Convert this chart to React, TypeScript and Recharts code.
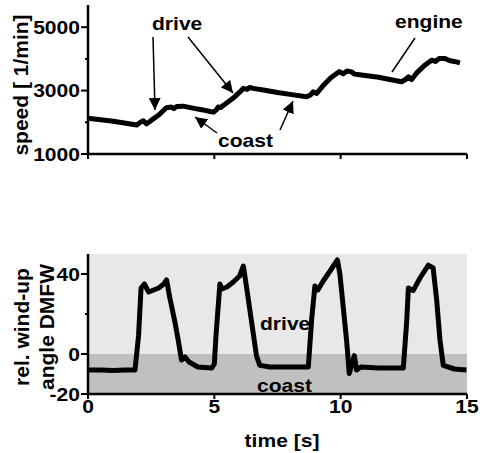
import { LineChart, Line, XAxis, YAxis, ReferenceArea } from 'recharts'

// speed trace (upper panel)
const speedTime = [0, 0.5, 1.0, 1.5, 1.93, 2.05, 2.19, 2.32, 2.5, 2.8, 3.1, 3.3, 3.4, 3.51, 3.76, 4.2, 4.55, 4.83, 4.97, 5.09, 5.15, 5.25, 5.5, 5.8, 6.0, 6.15, 6.3, 6.4, 6.54, 7.0, 7.5, 8.0, 8.65, 8.8, 8.91, 9.05, 9.3, 9.6, 9.84, 9.95, 10.1, 10.25, 10.43, 10.55, 10.83, 11.5, 12.0, 12.41, 12.55, 12.68, 12.81, 13.0, 13.3, 13.6, 13.75, 13.9, 14.13, 14.3, 14.5, 14.72]
const speedValues = [2130, 2080, 2030, 1970, 1915, 1990, 2050, 1950, 2060, 2230, 2460, 2480, 2430, 2500, 2510, 2440, 2390, 2340, 2320, 2400, 2480, 2470, 2620, 2800, 2950, 3070, 3040, 3100, 3070, 3010, 2940, 2880, 2805, 2860, 2960, 2910, 3150, 3400, 3540, 3600, 3530, 3620, 3590, 3520, 3490, 3420, 3340, 3280, 3340, 3435, 3350, 3550, 3780, 3960, 3920, 4010, 4010, 3950, 3920, 3875]

// wind-up angle trace (lower panel)
const angleTime = [0, 0.5, 1.0, 1.5, 1.86, 2.0, 2.1, 2.23, 2.4, 2.6, 2.8, 3.0, 3.11, 3.24, 3.44, 3.57, 3.7, 3.84, 4.0, 4.35, 4.9, 5.0, 5.07, 5.22, 5.3, 5.5, 5.75, 6.0, 6.15, 6.28, 6.48, 6.67, 6.8, 7.2, 8.0, 8.72, 8.85, 8.98, 9.1, 9.31, 9.58, 9.87, 9.97, 10.1, 10.24, 10.34, 10.45, 10.54, 10.63, 10.8, 11.5, 12.48, 12.61, 12.68, 12.87, 13.14, 13.47, 13.66, 13.8, 13.93, 14.06, 14.5, 14.98]
const angleValues = [-8, -8, -8.2, -8, -8, 9, 33, 35, 31, 32, 33, 35, 37, 28, 16, 7, -3, -1.5, -4, -6.5, -7, -5, 10, 35, 32.5, 33.5, 36, 39, 44, 33, 15.6, -1, -5.7, -6.5, -6.5, -6.5, 17, 34, 32, 36.5, 41.5, 47, 40, 23.6, 6, -9.8, -5, -0.8, -8, -6.5, -7, -7, 15.6, 33, 31.7, 38, 44.4, 43, 27, 7, -5.7, -7.5, -8]

const timeTicks = [0, 5, 10, 15]
const speedTicks = [1000, 2000, 3000, 4000, 5000]
const speedLabelled = [1000, 3000, 5000]
const angleTicks = [-20, 0, 20, 40]
const angleLabelled = [-20, 0, 40]

const speedData = speedTime.map((t, i) => ({ t, v: speedValues[i] }))
const angleData = angleTime.map((t, i) => ({ t, a: angleValues[i] }))

const FONT = '"Liberation Sans", Arial, sans-serif'
const SX = 1.17

function WideText({ x, y, anchor = 'start', children }: any) {
  return (
    <text transform={`translate(${x},${y}) scale(${SX},1)`} textAnchor={anchor} fontSize={18} fontWeight="bold" fontFamily={FONT} fill="#000">
      {children}
    </text>
  )
}

function makeYTick(labelled: number[]) {
  return (props: any) => {
    const { x, y, payload } = props
    const major = labelled.includes(payload.value)
    return (
      <g>
        <line x1={x - (major ? 7 : 3)} y1={y} x2={x} y2={y} stroke="#000" strokeWidth={2} />
        {major && <WideText x={x - 8} y={y + 6.5} anchor="end">{payload.value}</WideText>}
      </g>
    )
  }
}

function makeXTick(showLabel: boolean) {
  return (props: any) => {
    const { x, y, payload } = props
    return (
      <g>
        <line x1={x} y1={y} x2={x} y2={y + 5} stroke="#000" strokeWidth={2} />
        {showLabel && <WideText x={x} y={y + 19} anchor="middle">{payload.value}</WideText>}
      </g>
    )
  }
}

const axisLine = { stroke: '#000', strokeWidth: 2.5 }

export default function App() {
  return (
    <div style={{ position: 'absolute', left: 0, top: 0, width: 480, height: 453, background: '#fff' }}>
      <div style={{ position: 'absolute', left: 0, top: 0 }}>
        <LineChart width={480} height={180} data={speedData} margin={{ top: 5, right: 13, left: 0, bottom: 0 }}>
          <XAxis dataKey="t" type="number" domain={[0, 15]} ticks={timeTicks} height={26} axisLine={axisLine} tickLine={false} tickSize={0} tickMargin={0} tick={makeXTick(false)} />
          <YAxis type="number" domain={[1000, 5700]} ticks={speedTicks} width={88} allowDataOverflow axisLine={axisLine} tickLine={false} tickSize={0} tickMargin={0} tick={makeYTick(speedLabelled)} />
          <Line type="linear" dataKey="v" stroke="#000" strokeWidth={5} strokeLinejoin="round" dot={false} isAnimationActive={false} />
        </LineChart>
      </div>
      <div style={{ position: 'absolute', left: 0, top: 230 }}>
        <LineChart width={480} height={223} data={angleData} margin={{ top: 24, right: 13, left: 0, bottom: 0 }}>
          <ReferenceArea y1={0} y2={50} fill="#e8e8e8" fillOpacity={1} stroke="none" />
          <ReferenceArea y1={-20} y2={0} fill="#c0c0c0" fillOpacity={1} stroke="none" />
          <XAxis dataKey="t" type="number" domain={[0, 15]} ticks={timeTicks} height={59} axisLine={axisLine} tickLine={false} tickSize={0} tickMargin={0} tick={makeXTick(true)} />
          <YAxis type="number" domain={[-20, 50]} ticks={angleTicks} width={88} allowDataOverflow axisLine={axisLine} tickLine={false} tickSize={0} tickMargin={0} tick={makeYTick(angleLabelled)} />
          <Line type="linear" dataKey="a" stroke="#000" strokeWidth={5} strokeLinejoin="round" dot={false} isAnimationActive={false} />
        </LineChart>
      </div>
      <svg width={480} height={453} style={{ position: 'absolute', left: 0, top: 0, pointerEvents: 'none' }}>
        <defs>
          <marker id="head" viewBox="0 0 12 12" refX={12} refY={6} markerWidth={12} markerHeight={12} markerUnits="userSpaceOnUse" orient="auto">
            <path d="M0,0 L12,6 L0,12 z" fill="#000" />
          </marker>
        </defs>
        {/* axis titles */}
        <text transform="translate(28,85) rotate(-90)" textAnchor="middle" fontSize={21} fontWeight="bold" fontFamily={FONT}>speed [ 1/min]</text>
        <text transform="translate(29,327) rotate(-90)" textAnchor="middle" fontSize={21} fontWeight="bold" fontFamily={FONT}>rel. wind-up</text>
        <text transform="translate(54,327) rotate(-90)" textAnchor="middle" fontSize={21} fontWeight="bold" fontFamily={FONT}>angle DMFW</text>
        <WideText x={282} y={447} anchor="middle">time [s]</WideText>
        {/* annotations, upper panel */}
        <WideText x={152} y={30}>drive</WideText>
        <WideText x={395} y={28}>engine</WideText>
        <WideText x={218} y={147}>coast</WideText>
        <g stroke="#000" strokeWidth={1.5}>
          <line x1={153} y1={37} x2={155} y2={110} markerEnd="url(#head)" />
          <line x1={188} y1={37} x2={233} y2={93} markerEnd="url(#head)" />
          <line x1={217} y1={133} x2={195} y2={117} markerEnd="url(#head)" />
          <line x1={280} y1={130} x2={293} y2={101} markerEnd="url(#head)" />
          <line x1={415} y1={38} x2={392} y2={72} />
        </g>
        {/* annotations, lower panel */}
        <WideText x={260} y={330}>drive</WideText>
        <WideText x={257} y={392}>coast</WideText>
      </svg>
    </div>
  )
}
